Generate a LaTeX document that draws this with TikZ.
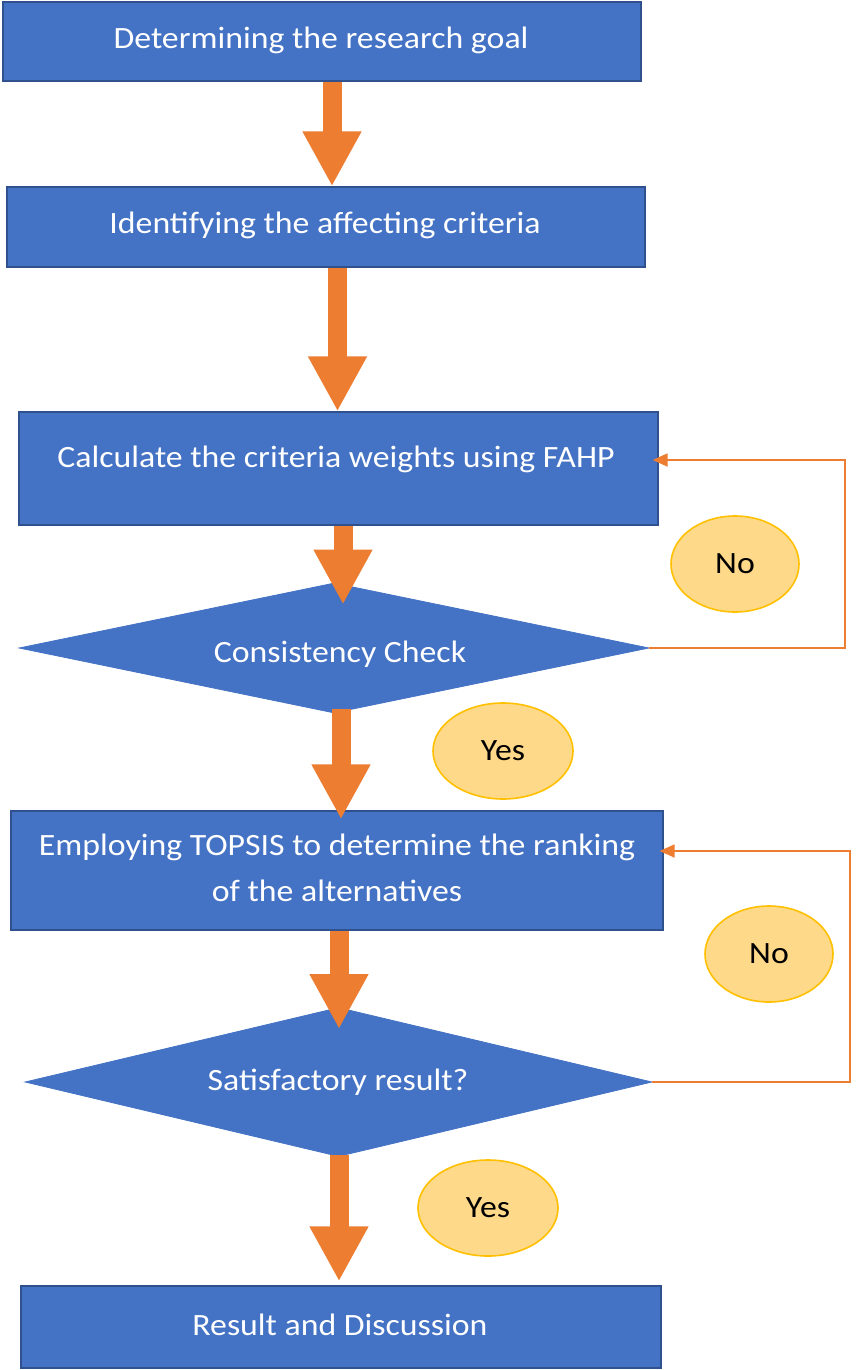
\documentclass[tikz,border=0pt]{standalone}
\usepackage{fontspec}
\usepackage{graphicx}
\setmainfont{Carlito}
\usetikzlibrary{shapes.geometric,arrows.meta,calc}
\definecolor{boxblue}{HTML}{4472C4}
\definecolor{boxedge}{HTML}{2F528F}
\definecolor{arrorange}{HTML}{ED7D31}
\definecolor{ovalfill}{HTML}{FFD98A}
\definecolor{ovaledge}{HTML}{FFC000}
\newcommand\wtxt[1]{\scalebox{1.09}[1]{#1}}
\tikzset{
  stepbox/.style={rectangle, fill=boxblue, draw=boxedge, line width=1.2pt, inner sep=0pt,
    text=white, font=\fontsize{31}{45}\selectfont, align=center},
  decbox/.style={diamond, fill=boxblue, draw=boxblue, line width=0.8pt, inner sep=0pt},
  boxtext/.style={text=white, font=\fontsize{31}{45}\selectfont, inner sep=0pt},
  oval/.style={ellipse, fill=ovalfill, draw=ovaledge, line width=1.6pt, inner sep=0pt,
    minimum width=128pt, minimum height=96pt, text=black, font=\fontsize{31}{36}\selectfont},
  bigarrow/.style={draw=arrorange, line width=19pt, -{Triangle[width=55pt,length=55pt]}},
  loopline/.style={draw=arrorange, line width=1.8pt, -{Triangle[width=13pt,length=15pt]}}
}
\begin{document}
\begin{tikzpicture}[x=1pt,y=-1pt]
\useasboundingbox (0,0) rectangle (855,1370);
\node[stepbox, minimum width=638pt, minimum height=79pt] (b1) at (322,41.5) {};
\node[boxtext] (t1) at (321,40) {\wtxt{Determining the research goal}};
\node[stepbox, minimum width=638pt, minimum height=80pt] (b2) at (326,227) {};
\node[boxtext] (t2) at (325,225) {\wtxt{Identifying the affecting criteria}};
\node[stepbox, minimum width=639pt, minimum height=113pt] (b3) at (338.5,468.5) {};
\node[boxtext] (t3) at (336,459) {\wtxt{Calculate the criteria weights using FAHP}};
\node[decbox, minimum width=630pt, minimum height=130pt] (d1) at (334,648) {};
\node[boxtext] (t4) at (340,654) {\wtxt{Consistency Check}};
\node[stepbox, minimum width=652pt, minimum height=119pt] (b5) at (337,870.5) {};
\node[boxtext] (t5a) at (337,847) {\wtxt{Employing TOPSIS to determine the ranking}};
\node[boxtext] (t5b) at (337,891) {\wtxt{of the alternatives}};
\node[decbox, minimum width=627pt, minimum height=149pt] (d2) at (338.5,1082) {};
\node[boxtext] (t6) at (338,1082) {\wtxt{Satisfactory result?}};
\node[stepbox, minimum width=640pt, minimum height=82pt] (b7) at (341,1327) {};
\node[boxtext] (t7) at (340,1325) {\wtxt{Result and Discussion}};

\node[oval] (n1) at (735,564) {\wtxt{No}};
\node[oval, minimum width=140pt] (y1) at (503,751) {\wtxt{Yes}};
\node[oval] (n2) at (769,954) {\wtxt{No}};
\node[oval, minimum width=140pt] (y2) at (488,1208) {\wtxt{Yes}};

\coordinate (a1s) at (b1.south -| 332,0);
\coordinate (a1e) at (b2.north -| 332,0);
\draw[bigarrow] (a1s) -- (a1e);
\coordinate (a2s) at (b2.south -| 337.5,0);
\coordinate (a2e) at (b3.north -| 337.5,0);
\draw[bigarrow] (a2s) -- (a2e);
\coordinate (a3s) at (b3.south -| 343,0);
\coordinate (a3e) at ($(d1.north -| 343,0)+(0,22)$);
\draw[bigarrow] (a3s) -- (a3e);
\coordinate (a4s) at ($(d1.south -| 341,0)+(0,-4)$);
\coordinate (a4e) at ($(b5.north -| 341,0)+(0,9)$);
\draw[bigarrow] (a4s) -- (a4e);
\coordinate (a5s) at (b5.south -| 339,0);
\coordinate (a5e) at ($(d2.north -| 339,0)+(0,22)$);
\draw[bigarrow] (a5s) -- (a5e);
\coordinate (a6s) at ($(d2.south -| 339,0)+(0,-2)$);
\coordinate (a6e) at ($(b7.north -| 339,0)+(0,-4)$);
\draw[bigarrow] (a6s) -- (a6e);

\coordinate (l1) at ($(b3.east |- 0,460)+(-6,0)$);
\draw[loopline] (d1.east) -- (845,648) |- (l1);
\coordinate (l2) at ($(b5.east |- 0,851)+(-4,0)$);
\draw[loopline] (d2.east) -- (850,1082) |- (l2);
\end{tikzpicture}
\end{document}
